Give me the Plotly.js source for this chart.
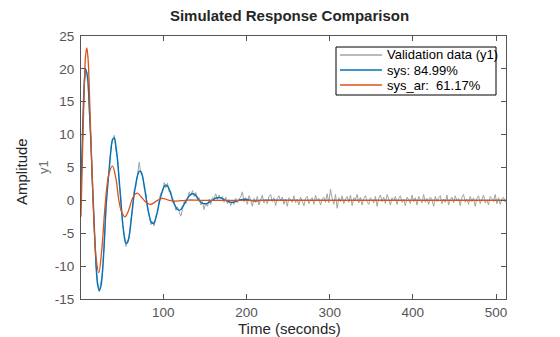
<!DOCTYPE html>
<html>
<head>
<meta charset="utf-8">
<script src="https://cdn.plot.ly/plotly-3.0.1.min.js"></script>
<style>html,body{margin:0;padding:0;background:#fff;}#chart{width:560px;height:337px;}</style>
</head>
<body>
<div id="chart"></div>
<script>
// Validation data (y1), sampled every 2 s starting at t = 1
const validationValues = [
  1.5, 11.8, 17.6, 19.8, 19.2, 13.5, 9.0, 1.4, -3.6, -10.1, -12.4, -13.9, -12.5, -10.9, -6.0, -1.9,
  2.6, 4.5, 8.1, 9.0, 9.9, 7.6, 6.5, 2.4, 0.3, -3.8, -5.0, -7.0, -6.0, -5.8, -2.9, -1.5,
  1.6, 2.1, 4.3, 5.8, 4.0, 3.9, 1.8, 1.1, -1.4, -2.0, -3.7, -3.2, -3.9, -2.3, -2.0, 0.1,
  1.1, 1.2, 2.7, 1.9, 2.6, 1.3, 1.4, -0.3, -0.1, -1.5, -1.0, -1.9, -2.4, -1.4, -0.2, -0.5,
  0.1, 1.3, 0.7, 1.5, 0.6, 1.2, 0.1, 0.4, -0.7, -0.2, -1.4, -0.4, -0.9, 0.2, -0.6, 0.4,
  0.3, 1.0, 0.1, 0.8, 0.2, 0.6, -0.3, 0.5, -0.5, 0.1, -0.8, -0.2, -0.6, 0.3, -0.4, 0.2,
  0.5, 1.3, -0.2, 0.4, -0.6, 0.7, 0.1, -0.9, 0.3, -0.3, 0.6, -0.7, 0.2, 0.8, -0.4, 0.1,
  -0.5, 0.6, 0.9, -0.2, 0.4, -0.8, 0.3, 0.7, -0.1, 0.5, -0.6, 0.2, -0.9, 0.4, 0.1, -0.3,
  0.7, -0.4, 0.2, -0.7, 0.5, -0.2, -0.8, 0.3, 0.6, -0.5, 0.1, 0.4, -0.6, 0.8, -0.1, 0.3,
  -0.7, 0.2, 0.5, -0.3, 1.0, -0.4, 1.7, 0.3, -0.6, 0.9, -1.2, 0.4, -0.2, 0.7, -0.5, 0.2,
  0.6, -0.3, 0.8, -0.8, 0.4, 0.1, 0.9, -0.4, 0.5, -0.7, 0.3, 0.7, -0.2, -0.6, 0.4, 0.1,
  -0.4, 0.6, -0.9, 0.3, 0.8, -0.2, 0.5, -0.5, 0.9, 0.2, -0.7, 0.4, -0.1, 0.6, -0.6, 0.3,
  0.7, -0.3, 0.2, -0.8, 0.5, 0.1, -0.5, 0.8, -0.2, 0.4, -0.7, 0.6, 0.2, -0.4, 0.9, -0.3,
  0.3, -0.6, 0.5, 0.1, -0.9, 0.6, -0.2, 0.4, 0.7, -0.5, 0.2, -0.3, 0.8, -0.7, 0.1, 0.5,
  -0.4, 0.7, -0.1, 0.3, -0.8, 0.5, 0.9, -0.3, 0.2, -0.6, 0.6, -0.2, 0.4, -0.9, 0.3, 0.7,
  -0.5, 0.2, 0.8, -0.4, 0.1, -0.7, 0.6, 0.3, -0.2, 0.9, -0.5, 0.4, -0.6, 0.2, 0.5, -0.3
];
const validationStart = 1;
const validationStep = 2;

// sys model response
const sysTime = [1, 3, 5, 6.5, 9, 11, 13, 15, 17, 19, 21, 23, 25, 27, 29, 31,
  33, 35, 37, 39, 41, 43, 45, 47, 49, 51, 53, 55, 57, 59, 61, 63,
  65, 67, 69, 71, 73, 75, 77, 79, 81, 83, 85, 87, 89, 91, 93, 95,
  97, 99, 101, 103, 105, 107, 109, 111, 113, 115, 117, 119, 121, 123, 125, 127,
  129, 131, 133, 135, 137, 139, 141, 143, 145, 147, 149, 151, 153, 155, 157, 159,
  161, 163, 165, 167, 169, 171, 173, 175, 177, 179, 181, 183, 185, 187, 189, 191,
  193, 195, 197, 199, 201, 203, 205, 207, 209, 211, 213, 215, 217, 230, 260, 512];
const sysValues = [2, 11, 18, 20, 18.5, 14, 8.5, 2, -4, -9.5, -12.8, -13.7, -13, -10.5, -6.5, -1.2,
  2.0, 5.0, 7.6, 9.3, 9.5, 8.2, 6.0, 3.0, -0.3, -3.3, -5.5, -6.5, -6.4, -5.3, -3.4, -1.0,
  1.0, 2.6, 3.8, 4.4, 4.4, 3.6, 2.3, 0.6, -1.0, -2.3, -3.2, -3.5, -3.4, -2.7, -1.6, -0.4,
  0.6, 1.5, 2.1, 2.3, 2.2, 1.7, 1.0, 0.2, -0.5, -1.0, -1.4, -1.5, -1.4, -1.0, -0.6, -0.1,
  0.3, 0.65, 0.9, 1.0, 0.95, 0.75, 0.4, 0.0, -0.25, -0.4, -0.5, -0.5, -0.45, -0.3, -0.1, 0.05,
  0.2, 0.33, 0.4, 0.42, 0.38, 0.28, 0.12, 0.0, -0.12, -0.22, -0.28, -0.3, -0.25, -0.15, -0.05, 0.05,
  0.12, 0.16, 0.18, 0.17, 0.13, 0.07, 0.0, -0.05, -0.08, -0.09, -0.07, -0.04, 0, 0.02, 0, 0];

// sys_ar model response
const sysArTime = [1, 3, 5, 6.5, 8, 9.5, 12, 15.5, 19, 22.4, 26, 30.5, 34.5, 38.8, 43, 46.5,
  50, 54, 58, 62, 65, 68.8, 73, 77, 81, 84.8, 89, 93, 98.8, 106, 115, 130, 150, 512];
const sysArValues = [-2.5, 8, 17.5, 22, 23.2, 21.5, 13, 0, -8.5, -11, -7.5, 0, 4, 5.2, 3.3, 0,
  -1.8, -2.5, -1.6, 0, 0.8, 1.1, 0.6, 0, -0.45, -0.6, -0.35, 0, 0.3, 0.05, -0.1, 0.05, 0, 0];

const seriesNames = ['Validation data (y1)', 'sys: 84.99%', 'sys_ar:  61.17%'];
const seriesColors = ['#a3a3a3', '#0072BD', '#D95319'];
const xTicks = [100, 200, 300, 400, 500];
const yTicks = [-15, -10, -5, 0, 5, 10, 15, 20, 25];

const validationTime = validationValues.map((_, i) => validationStart + validationStep * i);

const W = 560, H = 337;
const M = {l: 81, r: 54, t: 36, b: 38};
const pw = W - M.l - M.r, ph = H - M.t - M.b;
const px = x => (x - M.l) / pw;
const py = y => (H - M.b - y) / ph;
const FONT = 'Liberation Sans, Arial, sans-serif';

const traces = [
  {x: validationTime, y: validationValues, type: 'scatter', mode: 'lines', name: seriesNames[0],
   line: {color: seriesColors[0], width: 1}, hoverinfo: 'skip'},
  {x: sysTime, y: sysValues, type: 'scatter', mode: 'lines', name: seriesNames[1],
   line: {color: seriesColors[1], width: 1.4, shape: 'spline', smoothing: 1}},
  {x: sysArTime, y: sysArValues, type: 'scatter', mode: 'lines', name: seriesNames[2],
   line: {color: seriesColors[2], width: 1.3, shape: 'spline', smoothing: 1}}
];

// manual legend, MATLAB style
const legL = 336, legR = 496, legT = 47, legB = 95;
const rowY = [55, 70, 85];
const shapes = [
  {type: 'rect', xref: 'paper', yref: 'paper', x0: px(legL), x1: px(legR), y0: py(legB), y1: py(legT),
   line: {color: '#000', width: 1}, fillcolor: '#fff', layer: 'above'}
];
const annotations = [];
seriesNames.forEach((n, i) => {
  shapes.push({type: 'line', xref: 'paper', yref: 'paper', x0: px(340), x1: px(382), y0: py(rowY[i]), y1: py(rowY[i]),
    line: {color: seriesColors[i], width: i === 0 ? 1.5 : 1.3}, layer: 'above'});
  annotations.push({xref: 'paper', yref: 'paper', x: px(385), y: py(rowY[i]), xanchor: 'left', yanchor: 'middle',
    text: n.replace(/  /g, '&nbsp; '), showarrow: false, font: {family: FONT, size: 13, color: '#000'}});
});
annotations.push({xref: 'paper', yref: 'paper', x: px(289), y: py(328), xanchor: 'center', yanchor: 'middle',
  text: 'Time (seconds)', showarrow: false, font: {family: FONT, size: 15, color: '#262626'}});
annotations.push({xref: 'paper', yref: 'paper', x: px(21), y: py(172), xanchor: 'center', yanchor: 'middle', textangle: -90,
  text: 'Amplitude', showarrow: false, font: {family: FONT, size: 15, color: '#262626'}});
annotations.push({xref: 'paper', yref: 'paper', x: px(43), y: py(167), xanchor: 'center', yanchor: 'middle', textangle: -90,
  text: 'y1', showarrow: false, font: {family: FONT, size: 13, color: '#6e6e6e'}});

const axisCommon = {
  showgrid: false, zeroline: false, showline: true, mirror: 'ticks', linecolor: '#555', linewidth: 1,
  ticks: 'inside', ticklen: 5, tickcolor: '#555', tickwidth: 1,
  tickfont: {family: FONT, size: 13.5, color: '#555'}
};

const layout = {
  width: W, height: H,
  margin: M,
  paper_bgcolor: '#fff', plot_bgcolor: '#fff',
  showlegend: false,
  title: {text: '<b>Simulated Response Comparison</b>', x: 289.5 / W, xref: 'container', xanchor: 'center',
    y: 1 - 16 / H, yref: 'container', yanchor: 'middle',
    font: {family: FONT, size: 15, color: '#262626'}},
  xaxis: Object.assign({}, axisCommon, {range: [1, 512], tickvals: xTicks, ticktext: xTicks.map(String), ticklabelstandoff: 1}),
  yaxis: Object.assign({}, axisCommon, {range: [-15, 25], tickvals: yTicks, ticktext: yTicks.map(String), ticklabelstandoff: 3}),
  shapes: shapes,
  annotations: annotations
};

Plotly.newPlot('chart', traces, layout, {staticPlot: true, displayModeBar: false});
</script>
</body>
</html>
